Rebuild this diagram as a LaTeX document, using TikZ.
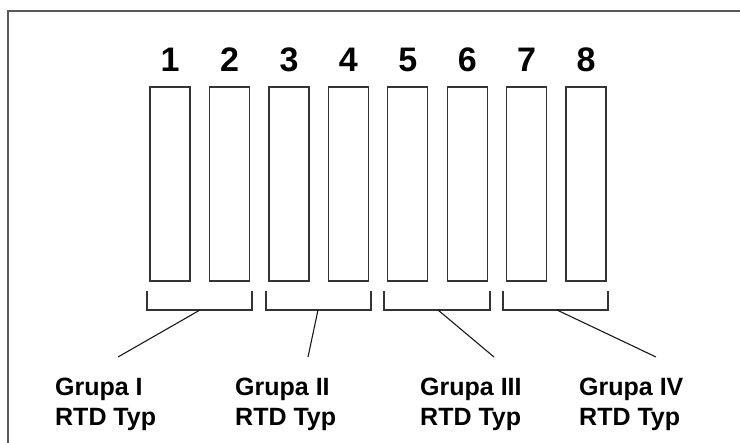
\documentclass[tikz,border=0pt]{standalone}
\usepackage{fontspec}
\setmainfont{Liberation Sans}
\begin{document}
\begin{tikzpicture}[x=1pt,y=-1pt,
  slot/.style={rectangle, draw=black!80, line width=1.3pt, fill=none, minimum width=40pt, minimum height=194pt, inner sep=0pt},
  num/.style={anchor=base, inner sep=0pt, font=\fontsize{34}{34}\selectfont\bfseries},
  grp/.style={anchor=base west, inner sep=0pt, align=left, font=\fontsize{25}{30}\selectfont\bfseries},
  brkt/.style={draw=black!80, line width=1.1pt},
  lead/.style={draw=black!90, line width=1.1pt}]
\clip (0,0) rectangle (740,443);
\fill[white] (0,0) rectangle (740,443);
\draw [black!65, line width=1.6pt] (8,11) rectangle (780,480);
% slots
\node [slot] (s1) at (170,184) {};
\node [slot] (s2) at (229.5,184) {};
\node [slot] (s3) at (289,184) {};
\node [slot] (s4) at (348.4,184) {};
\node [slot] (s5) at (407.8,184) {};
\node [slot] (s6) at (467.3,184) {};
\node [slot] (s7) at (526.7,184) {};
\node [slot] (s8) at (586.1,184) {};
% numbers
\node [num] (n1) at (170,72) {1};
\node [num] (n2) at (229.5,72) {2};
\node [num] (n3) at (289,72) {3};
\node [num] (n4) at (348.4,72) {4};
\node [num] (n5) at (407.8,72) {5};
\node [num] (n6) at (467.3,72) {6};
\node [num] (n7) at (526.7,72) {7};
\node [num] (n8) at (586.1,72) {8};
% brackets
\draw [brkt] (147,291) -- (147,310) -- (252,310) -- (252,291);
\draw [brkt] (266,291) -- (266,310) -- (371,310) -- (371,291);
\draw [brkt] (384,291) -- (384,310) -- (490,310) -- (490,291);
\draw [brkt] (503,291) -- (503,310) -- (608,310) -- (608,291);
\coordinate (b1) at (200,310);
\coordinate (b2) at (318,310);
\coordinate (b3) at (438,310);
\coordinate (b4) at (557,310);
% group labels
\node [grp] (g1) at (55,426) {Grupa I\\RTD Typ};
\node [grp] (g2) at (235,426) {Grupa II\\RTD Typ};
\node [grp] (g3) at (420,426) {Grupa III\\RTD Typ};
\node [grp] (g4) at (579,426) {Grupa IV\\RTD Typ};
\coordinate (e1) at (118,357);
\coordinate (e2) at (308,357);
\coordinate (e3) at (494,357);
\coordinate (e4) at (656,357);
\draw [lead] (b1) -- (e1);
\draw [lead] (b2) -- (e2);
\draw [lead] (b3) -- (e3);
\draw [lead] (b4) -- (e4);
\end{tikzpicture}
\end{document}
